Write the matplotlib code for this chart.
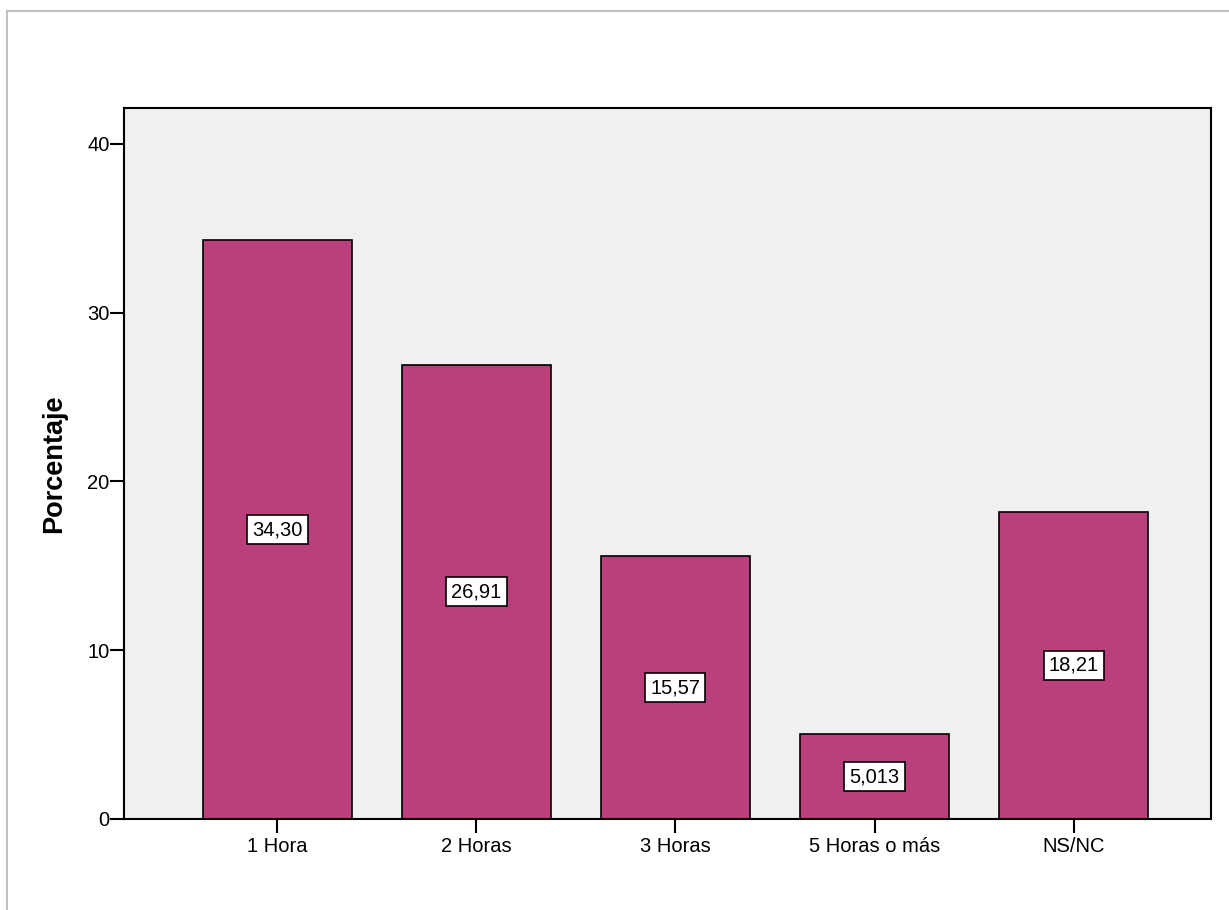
import matplotlib
matplotlib.use("Agg")
from matplotlib import pyplot as plt
from matplotlib.patches import Rectangle

categories = ["1 Hora", "2 Horas", "3 Horas", "5 Horas o más", "NS/NC"]
values = [34.30, 26.91, 15.57, 5.013, 18.21]
value_labels = ["34,30", "26,91", "15,57", "5,013", "18,21"]
yticks = [0, 10, 20, 30, 40]

plt.rcParams['font.family'] = ['Liberation Sans', 'DejaVu Sans']

W, H = 1229, 910
fig = plt.figure(figsize=(W / 100, H / 100), dpi=100)

# gray frame round the chart area (only top and left visible)
fig.patches.append(Rectangle((7 / W, -0.05), 1.1, 1 - 11 / H + 0.05, transform=fig.transFigure,
                             fill=False, edgecolor="#c0c0c0", linewidth=1.5))

ax = fig.add_axes([124 / W, 1 - 819 / H, (1211 - 124) / W, (819 - 108) / H])
ax.set_facecolor("#f0f0f0")

x = range(len(categories))
ax.bar(x, values, width=0.75, color="#bb3f7c", edgecolor="black", linewidth=1.2, zorder=2)

for xi, v, lab in zip(x, values, value_labels):
    ax.text(xi, v / 2, lab, ha="center", va="center", fontsize=14.5, zorder=3,
            bbox=dict(boxstyle="square,pad=0.25", facecolor="white", edgecolor="black", linewidth=1.2))

ax.set_xlim(-0.77, 4.69)
ax.set_ylim(0, 42.13)
ax.set_xticks(list(x))
ax.set_xticklabels(categories, fontsize=14.5)
ax.set_yticks(yticks)
ax.set_yticklabels([str(t) for t in yticks], fontsize=14.5)
ax.tick_params(axis="both", length=10, width=1.5, color="black")
ax.tick_params(axis="x", pad=3)
ax.tick_params(axis="y", pad=0.5)
for s in ax.spines.values():
    s.set_linewidth(1.5)
    s.set_color("black")

ax.set_ylabel("Porcentaje", fontsize=19.5, fontweight="bold", labelpad=14)

fig.savefig("out.png", dpi=100)
